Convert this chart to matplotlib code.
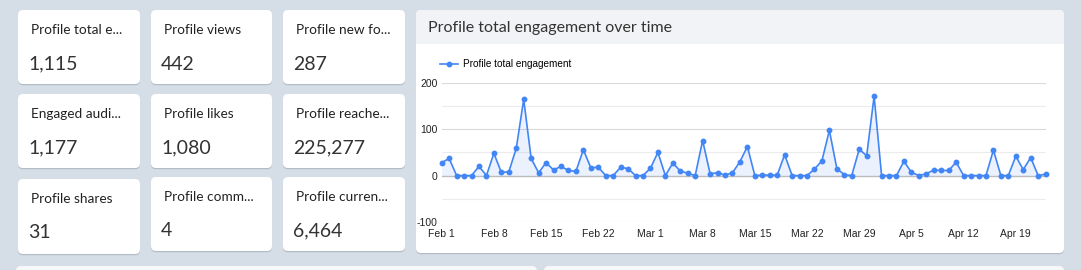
import matplotlib.pyplot as plt
import pandas as pd
from matplotlib.patches import FancyBboxPatch, Rectangle

# KPI cards
card_titles = ['Profile total e...', 'Profile views', 'Profile new fo...',
               'Engaged audi...', 'Profile likes', 'Profile reache...',
               'Profile shares', 'Profile comm...', 'Profile curren...']
card_values = ['1,115', '442', '287',
               '1,177', '1,080', '225,277',
               '31', '4', '6,464']

# daily profile total engagement, Feb 1 - Apr 23
engagement = [28, 37, 0, 0, 0, 20, 0, 48, 7, 8,
              59, 165, 37, 6, 28, 12, 20, 11, 9, 56,
              17, 18, 0, 0, 18, 15, 0, 0, 16, 50,
              0, 27, 10, 5, 0, 76, 4, 6, 1, 6,
              30, 63, 0, 1, 1, 1, 45, 0, 0, 0,
              14, 32, 98, 15, 2, 0, 57, 43, 172, 0,
              0, 0, 31, 7, 0, 4, 12, 11, 11, 29,
              0, 0, 0, 0, 55, 0, 0, 42, 13, 39,
              0, 3]
start_date = '2023-02-01'
tick_labels = ['Feb 1', 'Feb 8', 'Feb 15', 'Feb 22', 'Mar 1', 'Mar 8', 'Mar 15',
               'Mar 22', 'Mar 29', 'Apr 5', 'Apr 12', 'Apr 19']
y_ticks = [-100, 0, 100, 200]

W, H = 1081, 270
BG = '#d5dde6'
BLUE = '#4285f4'

fig = plt.figure(figsize=(W / 100, H / 100), dpi=100)
fig.patch.set_facecolor(BG)

# background layer in pixel coordinates
bg = fig.add_axes([0, 0, 1, 1], zorder=0)
bg.set_xlim(0, W)
bg.set_ylim(H, 0)
bg.axis('off')


def box(x0, y0, x1, y1, fc, r=5, shadow=True, z=1):
    if shadow:
        bg.add_patch(FancyBboxPatch((x0, y0 + 1.2), x1 - x0, y1 - y0,
                                    boxstyle=f'round,pad=0,rounding_size={r}',
                                    fc='#b3bcc6', ec='none', zorder=z))
    bg.add_patch(FancyBboxPatch((x0, y0), x1 - x0, y1 - y0,
                                boxstyle=f'round,pad=0,rounding_size={r}',
                                fc=fc, ec='none', zorder=z + 0.1))


col_x = [(18, 140), (151, 272), (283, 405)]
row_y = [[(10, 84)] * 3, [(94, 168)] * 3, [(179, 254), (177, 251), (177, 251)]]
for i, (t, v) in enumerate(zip(card_titles, card_values)):
    r, c = divmod(i, 3)
    x0, x1 = col_x[c]
    y0, y1 = row_y[r][c]
    box(x0, y0, x1, y1, 'white')
    bg.text(x0 + 13, y0 + 20, t, fontsize=9.8, family='Lato', color='#222222',
            va='center', ha='left', zorder=3)
    bg.text(x0 + 10, y0 + 54, v, fontsize=14, family='Lato', color='#333333',
            va='center', ha='left', zorder=3)

# chart panel
box(416, 10, 1064, 253, 'white', shadow=True)
bg.add_patch(FancyBboxPatch((416, 10), 648, 33, boxstyle='round,pad=0,rounding_size=5',
                            fc='#f2f3f6', ec='none', zorder=1.2))
bg.add_patch(Rectangle((416, 30), 648, 13.5, fc='#f2f3f6', ec='none', zorder=1.2))
bg.text(428, 28, 'Profile total engagement over time', fontsize=11.5, family='Lato',
        color='#333333', va='center', ha='left', zorder=3)

# panels starting below
box(16, 266, 537, 290, '#f7f8fa', shadow=False)
box(544, 266, 1064, 290, '#f7f8fa', shadow=False)

# line chart
dates = pd.date_range(start_date, periods=len(engagement))
ax = fig.add_axes([441.7 / W, 1 - 221.7 / H, (1045.6 - 441.7) / W, (221.7 - 83.3) / H], zorder=2)
ax.set_facecolor('none')
ax.set_xlim(dates[0], dates[-1])
ax.set_ylim(-100, 200)
for yv in [-50, 50, 150]:
    ax.axhline(yv, color='#ececec', lw=0.8, zorder=0)
for yv in [-100, 100, 200]:
    ax.axhline(yv, color='#d9d9d9', lw=0.8, zorder=0)
ax.axhline(0, color='#bdbdbd', lw=1.0, zorder=1)

ax.fill_between(dates, engagement, 0, color=BLUE, alpha=0.1, lw=0, zorder=2)
ax.plot(dates, engagement, color=BLUE, lw=1.2, marker='o', ms=3.2,
        label='Profile total engagement', zorder=3, clip_on=False)

ax.set_xticks(dates[::7])
ax.set_xticklabels(tick_labels)
ax.set_yticks(y_ticks)
ax.set_yticklabels([str(v) for v in y_ticks])
ax.tick_params(length=0, labelsize=7.5, labelcolor='#222222')
ax.tick_params(axis='x', pad=5)
ax.tick_params(axis='y', pad=3)
for lab in ax.get_xticklabels() + ax.get_yticklabels():
    lab.set_family('Liberation Sans')
for s in ax.spines.values():
    s.set_visible(False)

leg = ax.legend(loc='center left', bbox_to_anchor=(440 / W, 1 - 64 / H),
                bbox_transform=fig.transFigure, frameon=False, handlelength=1.8,
                handletextpad=0.5, borderaxespad=0, borderpad=0,
                prop={'family': 'Liberation Sans', 'size': 7.2})

fig.savefig('out.png', dpi=100, facecolor=BG)
